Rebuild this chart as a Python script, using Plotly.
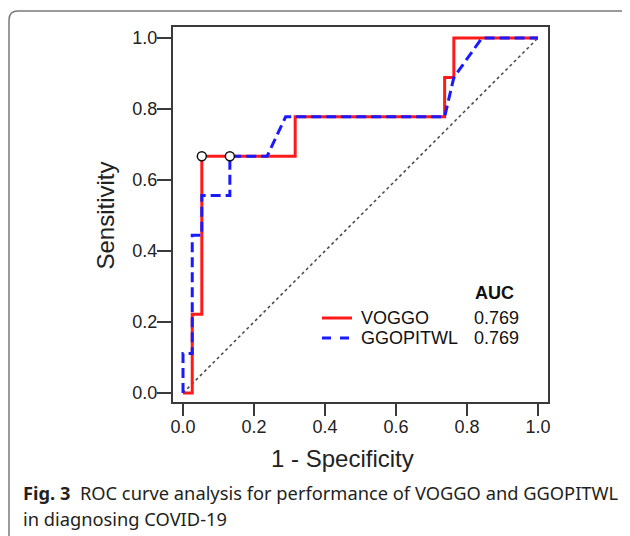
import plotly.graph_objects as go

# ROC curve data (1 - Specificity, Sensitivity)
voggo_fpr = [0.0, 0.026, 0.026, 0.053, 0.053, 0.316, 0.316, 0.737, 0.737, 0.763, 0.763, 1.0]
voggo_tpr = [0.0, 0.0, 0.222, 0.222, 0.667, 0.667, 0.778, 0.778, 0.889, 0.889, 1.0, 1.0]
ggo_fpr = [0.0, 0.0, 0.026, 0.026, 0.053, 0.053, 0.132, 0.132, 0.237, 0.289, 0.737, 0.763, 0.842, 1.0]
ggo_tpr = [0.0, 0.111, 0.111, 0.444, 0.444, 0.556, 0.556, 0.667, 0.667, 0.778, 0.778, 0.889, 1.0, 1.0]
ref_x = [0.0, 1.0]
ref_y = [0.0, 1.0]
cut_x = [0.053, 0.132]
cut_y = [0.667, 0.667]
series_names = ["VOGGO", "GGOPITWL"]
auc_values = ["0.769", "0.769"]
tick_vals = [0.0, 0.2, 0.4, 0.6, 0.8, 1.0]
tick_text = ["0.0", "0.2", "0.4", "0.6", "0.8", "1.0"]

# page has an 8px body margin: work in screen pixels, convert below
OFF = 8
W, H = 630 - OFF, 536 - OFF
SL, SR, ST, SB = 173, 548, 27, 402  # plot area in screen pixels
L, T = SL - OFF, ST - OFF
R, B = W - (SR - OFF), H - (SB - OFF)
PW, PH = SR - SL, SB - ST


def px(x):
    return (x - SL) / PW


def py(y):
    return (SB - y) / PH


fig = go.Figure()
fig.add_trace(go.Scatter(x=ref_x, y=ref_y, mode="lines",
                         line=dict(color="#444444", width=1.5, dash="dot"),
                         showlegend=False))
fig.add_trace(go.Scatter(x=voggo_fpr, y=voggo_tpr, mode="lines",
                         line=dict(color="#ff1a1a", width=3),
                         showlegend=False))
fig.add_trace(go.Scatter(x=ggo_fpr, y=ggo_tpr, mode="lines",
                         line=dict(color="#1a1aff", width=3, dash="10px,5px"),
                         showlegend=False))
fig.add_trace(go.Scatter(x=cut_x, y=cut_y, mode="markers",
                         marker=dict(size=9, color="white",
                                     line=dict(color="#111111", width=1.5)),
                         showlegend=False))

axis_common = dict(
    tickvals=tick_vals, ticktext=tick_text,
    showgrid=False, zeroline=False,
    showline=True, linecolor="#3a3a3a", linewidth=2, mirror=True,
    ticks="outside", tickwidth=2, tickcolor="#3a3a3a",
    tickfont=dict(family="Liberation Sans, Arial", size=18, color="#222222"),
)
fig.update_xaxes(range=[-0.0282, 1.0282], ticklen=12, ticklabelstandoff=-5, **axis_common)
fig.update_yaxes(range=[-0.0254, 1.031], ticklen=14, ticklabelstandoff=-4, **axis_common)

font_a = "Liberation Sans, Arial"
ann = []
# axis titles
ann.append(dict(text="1 - Specificity", x=px(342), y=py(458), xref="paper", yref="paper",
                xanchor="center", yanchor="middle",
                showarrow=False, font=dict(family=font_a, size=24, color="#222222")))
ann.append(dict(text="Sensitivity", x=px(105), y=py(215.5), xref="paper", yref="paper",
                xanchor="center", yanchor="middle",
                showarrow=False, textangle=-90, font=dict(family=font_a, size=24, color="#222222")))
# legend
ann.append(dict(text="<b>AUC</b>", x=px(473), y=py(293), xref="paper", yref="paper",
                xanchor="left", yanchor="middle",
                showarrow=False, font=dict(family=font_a, size=18, color="#111111")))
leg_y = [318, 338]
leg_colors = ["#ff1a1a", "#1a1aff"]
leg_dash = ["solid", "dash"]
shapes = []
for name, auc, yy, col, dsh in zip(series_names, auc_values, leg_y, leg_colors, leg_dash):
    ann.append(dict(text=name, x=px(359), y=py(yy), xref="paper", yref="paper",
                    xanchor="left", yanchor="middle",
                    showarrow=False, font=dict(family=font_a, size=18, color="#111111")))
    ann.append(dict(text=auc, x=px(472), y=py(yy), xref="paper", yref="paper",
                    xanchor="left", yanchor="middle",
                    showarrow=False, font=dict(family=font_a, size=18, color="#111111")))
    shapes.append(dict(type="line", xref="paper", yref="paper",
                       x0=px(322), x1=px(352), y0=py(yy), y1=py(yy),
                       line=dict(color=col, width=3, dash=dsh)))
# caption
cap_font = "Noto Sans, Open Sans"
ann.append(dict(text="<b>Fig. 3</b>  ROC curve analysis for performance of VOGGO and GGOPITWL",
                x=px(21), y=py(492), xref="paper", yref="paper", xanchor="left", yanchor="middle",
                showarrow=False, font=dict(family=cap_font, size=18.3, color="#231f20")))
ann.append(dict(text="in diagnosing COVID-19",
                x=px(21), y=py(518), xref="paper", yref="paper", xanchor="left", yanchor="middle",
                showarrow=False, font=dict(family=cap_font, size=18.3, color="#231f20")))

# outer rounded frame
x0, y0, x1, y1, r = 9, 11, 634, 545, 9
path = (f"M {px(x0)},{py(y0 + r)} Q {px(x0)},{py(y0)} {px(x0 + r)},{py(y0)} "
        f"L {px(x1 - r)},{py(y0)} Q {px(x1)},{py(y0)} {px(x1)},{py(y0 + r)} "
        f"L {px(x1)},{py(y1 - r)} Q {px(x1)},{py(y1)} {px(x1 - r)},{py(y1)} "
        f"L {px(x0 + r)},{py(y1)} Q {px(x0)},{py(y1)} {px(x0)},{py(y1 - r)} Z")
shapes.append(dict(type="path", xref="paper", yref="paper", path=path,
                   line=dict(color="#7a7a7a", width=1.5), layer="below"))

fig.update_layout(
    width=W, height=H,
    margin=dict(l=L, r=R, t=T, b=B),
    paper_bgcolor="white", plot_bgcolor="white",
    annotations=ann, shapes=shapes,
    showlegend=False,
)
fig.write_html("out.html")
